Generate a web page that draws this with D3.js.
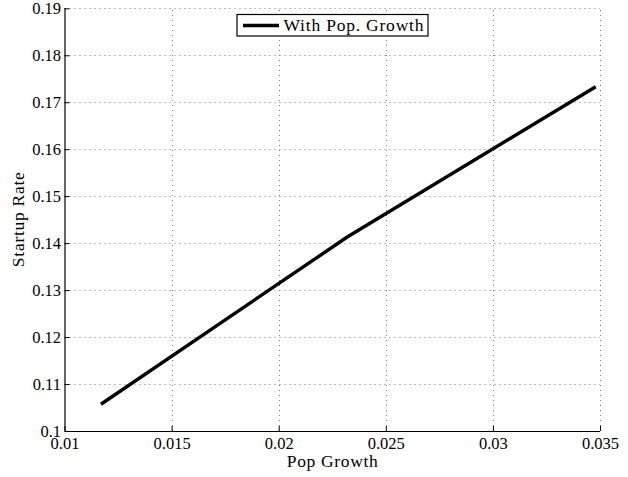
<!DOCTYPE html>
<html>
<head>
<meta charset="utf-8">
<script src="https://cdn.jsdelivr.net/npm/d3@7"></script>
<style>
  html, body { margin: 0; padding: 0; background: #fff; }
  svg { display: block; }
</style>
</head>
<body>
<svg id="chart" width="628" height="477"></svg>
<script>
// Startup rate as a function of population growth
const popGrowth   = [0.0117, 0.0232, 0.0348];
const startupRate = [0.1057, 0.1413, 0.1733];

const xTicks = [0.01, 0.015, 0.02, 0.025, 0.03, 0.035];
const yTicks = [0.1, 0.11, 0.12, 0.13, 0.14, 0.15, 0.16, 0.17, 0.18, 0.19];
const xTickLabels = ["0.01", "0.015", "0.02", "0.025", "0.03", "0.035"];
const yTickLabels = ["0.1", "0.11", "0.12", "0.13", "0.14", "0.15", "0.16", "0.17", "0.18", "0.19"];

const seriesName = "With Pop. Growth";
const xTitle = "Pop Growth";
const yTitle = "Startup Rate";

const serif = "Liberation Serif";
const svg = d3.select("#chart");
const plotLeft = 64.5, plotRight = 600, plotTop = 8.3, plotBottom = 431;

const x = d3.scaleLinear().domain([0.01, 0.035]).range([plotLeft, plotRight]);
const y = d3.scaleLinear().domain([0.1, 0.19]).range([plotBottom, plotTop]);

// dotted grid
const grid = svg.append("g").attr("stroke", "#7a7a7a").attr("stroke-width", 1)
  .attr("stroke-dasharray", "1,4").attr("fill", "none");
grid.selectAll("line.v").data(xTicks.slice(1)).join("line").attr("class", "v")
  .attr("x1", d => Math.round(x(d)) + 0.5).attr("x2", d => Math.round(x(d)) + 0.5)
  .attr("y1", plotBottom).attr("y2", plotTop);
grid.selectAll("line.h").data(yTicks.slice(1)).join("line").attr("class", "h")
  .attr("y1", d => Math.round(y(d)) + 0.5).attr("y2", d => Math.round(y(d)) + 0.5)
  .attr("x1", plotLeft).attr("x2", plotRight);

// axes with inward ticks
const xAxis = d3.axisBottom(x).tickValues(xTicks).tickSize(-5)
  .tickFormat((d, i) => xTickLabels[i]).tickPadding(10);
const yAxis = d3.axisLeft(y).tickValues(yTicks).tickSize(-5)
  .tickFormat((d, i) => yTickLabels[i]).tickPadding(3.5);

const gx = svg.append("g").attr("transform", `translate(0,${plotBottom})`).call(xAxis);
const gy = svg.append("g").attr("transform", `translate(${plotLeft},0)`).call(yAxis);
[gx, gy].forEach(g => {
  g.attr("font-family", serif).attr("font-size", 16.5);
  g.select(".domain").attr("stroke", "#000").attr("stroke-width", 1.2);
  g.selectAll(".tick line").attr("stroke", "#000").attr("stroke-width", 1);
  g.selectAll("text").attr("fill", "#000");
});
gy.select(".domain").attr("d", `M0.5,${plotBottom}V${plotTop}`);
gx.select(".domain").attr("d", `M${plotLeft},0.5H${plotRight}`);
gx.selectAll(".tick text").attr("dy", "0.71em").attr("y", 6);

// data line
const pts = popGrowth.map((d, i) => [d, startupRate[i]]);
svg.append("path").datum(pts)
  .attr("fill", "none").attr("stroke", "#000").attr("stroke-width", 3.4)
  .attr("stroke-linejoin", "round")
  .attr("d", d3.line().x(d => x(d[0])).y(d => y(d[1])));

// axis titles
svg.append("text").attr("x", (plotLeft + plotRight) / 2).attr("y", 467)
  .attr("text-anchor", "middle").attr("font-family", serif).attr("font-size", 17.5)
  .attr("textLength", 91).attr("lengthAdjust", "spacing").text(xTitle);
svg.append("text").attr("transform", `translate(24,${(plotTop + plotBottom) / 2}) rotate(-90)`)
  .attr("text-anchor", "middle").attr("font-family", serif).attr("font-size", 17.5)
  .attr("textLength", 95).attr("lengthAdjust", "spacing").text(yTitle);

// legend
const lg = svg.append("g");
lg.append("rect").attr("x", 237).attr("y", 14.5).attr("width", 191).attr("height", 21.5)
  .attr("fill", "#fff").attr("stroke", "#000").attr("stroke-width", 1.2);
lg.append("line").attr("x1", 243).attr("x2", 279).attr("y1", 25.5).attr("y2", 25.5)
  .attr("stroke", "#000").attr("stroke-width", 3.4);
lg.append("text").attr("x", 283.5).attr("y", 31).attr("font-family", serif).attr("font-size", 17.5)
  .attr("textLength", 140).attr("lengthAdjust", "spacing").text(seriesName);
</script>
</body>
</html>
